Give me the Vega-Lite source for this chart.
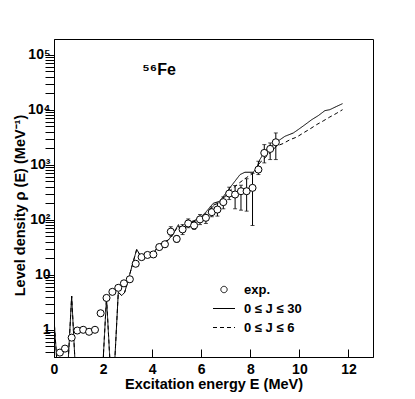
{
  "$schema": "https://vega.github.io/schema/vega-lite/v6.json",
  "width": 319,
  "height": 318,
  "autosize": "none",
  "padding": {"left": 54, "top": 39, "right": 42, "bottom": 42},
  "background": "white",
  "view": {"stroke": "black", "strokeWidth": 1},
  "config": {
    "font": "Liberation Sans",
    "axis": {
      "grid": false,
      "domainColor": "black",
      "domainWidth": 1,
      "ticks": true,
      "tickColor": "black",
      "tickWidth": 1,
      "tickOpacity": 1,
      "labelColor": "black",
      "titleColor": "black",
      "labelFont": "Liberation Sans",
      "labelFontWeight": "bold",
      "labelFontSize": 14,
      "titleFont": "Liberation Sans",
      "titleFontWeight": "bold",
      "titleFontSize": 14.5,
      "labelFlush": false,
      "labelOverlap": false
    }
  },
  "datasets": {
    "exp": [
      {"E": 0.24, "rho": 0.385, "series": "exp."},
      {"E": 0.45, "rho": 0.455, "series": "exp."},
      {"E": 0.72, "rho": 0.72, "series": "exp."},
      {"E": 0.95, "rho": 0.97, "series": "exp."},
      {"E": 1.19, "rho": 1.0, "series": "exp."},
      {"E": 1.43, "rho": 0.92, "series": "exp."},
      {"E": 1.67, "rho": 1.0, "series": "exp."},
      {"E": 1.9, "rho": 2.0, "series": "exp."},
      {"E": 2.14, "rho": 3.8, "series": "exp."},
      {"E": 2.38, "rho": 4.9, "series": "exp."},
      {"E": 2.62, "rho": 5.8, "series": "exp."},
      {"E": 2.85, "rho": 7.0, "series": "exp."},
      {"E": 3.09, "rho": 8.3, "series": "exp."},
      {"E": 3.33, "rho": 15.9, "series": "exp."},
      {"E": 3.57, "rho": 21, "series": "exp."},
      {"E": 3.81, "rho": 23, "series": "exp."},
      {"E": 4.05, "rho": 23.5, "series": "exp."},
      {"E": 4.29, "rho": 32, "lo": 29, "hi": 35, "series": "exp."},
      {"E": 4.52, "rho": 36, "lo": 32, "hi": 40, "series": "exp."},
      {"E": 4.76, "rho": 61, "lo": 51, "hi": 75, "series": "exp."},
      {"E": 5.0, "rho": 45, "lo": 39, "hi": 52, "series": "exp."},
      {"E": 5.24, "rho": 67, "lo": 54, "hi": 82, "series": "exp."},
      {"E": 5.47, "rho": 86, "lo": 72, "hi": 104, "series": "exp."},
      {"E": 5.71, "rho": 79, "lo": 67, "hi": 95, "series": "exp."},
      {"E": 5.95, "rho": 102, "lo": 82, "hi": 125, "series": "exp."},
      {"E": 6.19, "rho": 109, "lo": 86, "hi": 125, "series": "exp."},
      {"E": 6.43, "rho": 138, "lo": 114, "hi": 173, "series": "exp."},
      {"E": 6.66, "rho": 154, "lo": 117, "hi": 204, "series": "exp."},
      {"E": 6.9, "rho": 210, "lo": 159, "hi": 262, "series": "exp."},
      {"E": 7.14, "rho": 301, "lo": 234, "hi": 393, "series": "exp."},
      {"E": 7.38, "rho": 289, "lo": 159, "hi": 421, "series": "exp."},
      {"E": 7.62, "rho": 332, "lo": 150, "hi": 427, "series": "exp."},
      {"E": 7.85, "rho": 332, "lo": 144, "hi": 560, "series": "exp."},
      {"E": 8.09, "rho": 382, "lo": 79, "hi": 700, "series": "exp."},
      {"E": 8.33, "rho": 822, "lo": 667, "hi": 1165, "series": "exp."},
      {"E": 8.57, "rho": 1651, "lo": 1087, "hi": 2339, "series": "exp."},
      {"E": 8.81, "rho": 1951, "lo": 1250, "hi": 2507, "series": "exp."},
      {"E": 9.04, "rho": 2578, "lo": 1250, "hi": 3811, "series": "exp."}
    ],
    "theory": [
      {"E": 0.0, "rho": 1.6, "series": "0 ≤ J ≤ 30"},
      {"E": 0.24, "rho": 0.04, "series": "0 ≤ J ≤ 30"},
      {"E": 0.48, "rho": 0.04, "series": "0 ≤ J ≤ 30"},
      {"E": 0.72, "rho": 4.1, "series": "0 ≤ J ≤ 30"},
      {"E": 0.95, "rho": 0.04, "series": "0 ≤ J ≤ 30"},
      {"E": 1.9, "rho": 0.04, "series": "0 ≤ J ≤ 30"},
      {"E": 2.14, "rho": 3.85, "series": "0 ≤ J ≤ 30"},
      {"E": 2.38, "rho": 0.04, "series": "0 ≤ J ≤ 30"},
      {"E": 2.62, "rho": 4.8, "series": "0 ≤ J ≤ 30"},
      {"E": 2.76, "rho": 4.2, "series": "0 ≤ J ≤ 30"},
      {"E": 2.88, "rho": 4.8, "series": "0 ≤ J ≤ 30"},
      {"E": 3.37, "rho": 29, "series": "0 ≤ J ≤ 30"},
      {"E": 3.53, "rho": 22, "series": "0 ≤ J ≤ 30"},
      {"E": 3.78, "rho": 23.6, "series": "0 ≤ J ≤ 30"},
      {"E": 4.05, "rho": 25, "series": "0 ≤ J ≤ 30"},
      {"E": 4.32, "rho": 36, "series": "0 ≤ J ≤ 30"},
      {"E": 4.66, "rho": 43, "series": "0 ≤ J ≤ 30"},
      {"E": 4.85, "rho": 55, "series": "0 ≤ J ≤ 30"},
      {"E": 5.07, "rho": 82, "series": "0 ≤ J ≤ 30"},
      {"E": 5.18, "rho": 62, "series": "0 ≤ J ≤ 30"},
      {"E": 5.54, "rho": 89, "series": "0 ≤ J ≤ 30"},
      {"E": 5.95, "rho": 109, "series": "0 ≤ J ≤ 30"},
      {"E": 6.2, "rho": 140, "series": "0 ≤ J ≤ 30"},
      {"E": 6.49, "rho": 200, "series": "0 ≤ J ≤ 30"},
      {"E": 6.76, "rho": 219, "series": "0 ≤ J ≤ 30"},
      {"E": 7.17, "rho": 384, "series": "0 ≤ J ≤ 30"},
      {"E": 7.58, "rho": 665, "series": "0 ≤ J ≤ 30"},
      {"E": 7.78, "rho": 735, "series": "0 ≤ J ≤ 30"},
      {"E": 8.12, "rho": 735, "series": "0 ≤ J ≤ 30"},
      {"E": 8.26, "rho": 883, "series": "0 ≤ J ≤ 30"},
      {"E": 8.39, "rho": 1250, "series": "0 ≤ J ≤ 30"},
      {"E": 8.6, "rho": 1766, "series": "0 ≤ J ≤ 30"},
      {"E": 9.07, "rho": 2600, "series": "0 ≤ J ≤ 30"},
      {"E": 9.41, "rho": 3310, "series": "0 ≤ J ≤ 30"},
      {"E": 9.75, "rho": 3800, "series": "0 ≤ J ≤ 30"},
      {"E": 9.95, "rho": 4380, "series": "0 ≤ J ≤ 30"},
      {"E": 10.23, "rho": 5390, "series": "0 ≤ J ≤ 30"},
      {"E": 10.5, "rho": 6630, "series": "0 ≤ J ≤ 30"},
      {"E": 10.77, "rho": 7870, "series": "0 ≤ J ≤ 30"},
      {"E": 11.04, "rho": 9700, "series": "0 ≤ J ≤ 30"},
      {"E": 11.24, "rho": 10100, "series": "0 ≤ J ≤ 30"},
      {"E": 11.52, "rho": 11600, "series": "0 ≤ J ≤ 30"},
      {"E": 11.76, "rho": 13000, "series": "0 ≤ J ≤ 30"},
      {"E": 0.0, "rho": 1.6, "series": "0 ≤ J ≤ 6"},
      {"E": 0.24, "rho": 0.04, "series": "0 ≤ J ≤ 6"},
      {"E": 0.48, "rho": 0.04, "series": "0 ≤ J ≤ 6"},
      {"E": 0.72, "rho": 4.1, "series": "0 ≤ J ≤ 6"},
      {"E": 0.95, "rho": 0.04, "series": "0 ≤ J ≤ 6"},
      {"E": 1.9, "rho": 0.04, "series": "0 ≤ J ≤ 6"},
      {"E": 2.14, "rho": 3.85, "series": "0 ≤ J ≤ 6"},
      {"E": 2.38, "rho": 0.04, "series": "0 ≤ J ≤ 6"},
      {"E": 2.62, "rho": 4.8, "series": "0 ≤ J ≤ 6"},
      {"E": 2.76, "rho": 4.2, "series": "0 ≤ J ≤ 6"},
      {"E": 2.88, "rho": 4.8, "series": "0 ≤ J ≤ 6"},
      {"E": 3.37, "rho": 29, "series": "0 ≤ J ≤ 6"},
      {"E": 3.53, "rho": 22, "series": "0 ≤ J ≤ 6"},
      {"E": 3.78, "rho": 23.6, "series": "0 ≤ J ≤ 6"},
      {"E": 4.05, "rho": 25, "series": "0 ≤ J ≤ 6"},
      {"E": 4.32, "rho": 36, "series": "0 ≤ J ≤ 6"},
      {"E": 4.66, "rho": 43, "series": "0 ≤ J ≤ 6"},
      {"E": 4.85, "rho": 55, "series": "0 ≤ J ≤ 6"},
      {"E": 5.07, "rho": 78, "series": "0 ≤ J ≤ 6"},
      {"E": 5.18, "rho": 60, "series": "0 ≤ J ≤ 6"},
      {"E": 5.54, "rho": 86, "series": "0 ≤ J ≤ 6"},
      {"E": 5.95, "rho": 104, "series": "0 ≤ J ≤ 6"},
      {"E": 6.2, "rho": 132, "series": "0 ≤ J ≤ 6"},
      {"E": 6.49, "rho": 185, "series": "0 ≤ J ≤ 6"},
      {"E": 6.76, "rho": 205, "series": "0 ≤ J ≤ 6"},
      {"E": 7.17, "rho": 340, "series": "0 ≤ J ≤ 6"},
      {"E": 7.58, "rho": 480, "series": "0 ≤ J ≤ 6"},
      {"E": 7.85, "rho": 590, "series": "0 ≤ J ≤ 6"},
      {"E": 8.1, "rho": 700, "series": "0 ≤ J ≤ 6"},
      {"E": 8.39, "rho": 1090, "series": "0 ≤ J ≤ 6"},
      {"E": 8.8, "rho": 1650, "series": "0 ≤ J ≤ 6"},
      {"E": 9.07, "rho": 2200, "series": "0 ≤ J ≤ 6"},
      {"E": 9.34, "rho": 2450, "series": "0 ≤ J ≤ 6"},
      {"E": 9.62, "rho": 2880, "series": "0 ≤ J ≤ 6"},
      {"E": 9.89, "rho": 3200, "series": "0 ≤ J ≤ 6"},
      {"E": 10.16, "rho": 3810, "series": "0 ≤ J ≤ 6"},
      {"E": 10.43, "rho": 4500, "series": "0 ≤ J ≤ 6"},
      {"E": 10.7, "rho": 5390, "series": "0 ≤ J ≤ 6"},
      {"E": 10.97, "rho": 6300, "series": "0 ≤ J ≤ 6"},
      {"E": 11.24, "rho": 7430, "series": "0 ≤ J ≤ 6"},
      {"E": 11.5, "rho": 8600, "series": "0 ≤ J ≤ 6"},
      {"E": 11.76, "rho": 10100, "series": "0 ≤ J ≤ 6"}
    ]
  },
  "layer": [
    {
      "data": {"name": "theory"},
      "mark": {"type": "line", "clip": true, "color": "black", "strokeWidth": 1},
      "encoding": {
        "x": {
          "field": "E", "type": "quantitative",
          "scale": {"domain": [0, 13], "nice": false, "zero": false},
          "axis": {
            "orient": "top",
            "offset": -318,
            "title": "Excitation energy E (MeV)",
            "values": [0, 0.5, 1, 1.5, 2, 2.5, 3, 3.5, 4, 4.5, 5, 5.5, 6, 6.5, 7, 7.5, 8, 8.5, 9, 9.5, 10, 10.5, 11, 11.5, 12, 12.5, 13],
            "labelExpr": "datum.value % 2 === 0 ? datum.label : ''",
            "tickSize": 8,
            "labelPadding": -13,
            "labelBaseline": "top",
            "titleY": 31,
            "titleBaseline": "alphabetic",
            "zindex": 2,
            "encode": {
              "ticks": {
                "update": {
                  "y2": {"signal": "indexof([0, 2, 4, 6, 8, 10, 12], datum.value) >= 0 ? -8 : -4"}
                }
              }
            }
          }
        },
        "y": {
          "field": "rho", "type": "quantitative",
          "scale": {"type": "log", "domain": [0.32, 195000], "nice": false},
          "axis": {
            "title": "Level density ρ (E) (MeV⁻¹)",
            "values": [0.4, 0.5, 0.6, 0.7, 0.8, 0.9, 1, 2, 3, 4, 5, 6, 7, 8, 9, 10, 20, 30, 40, 50, 60, 70, 80, 90, 100, 200, 300, 400, 500, 600, 700, 800, 900, 1000, 2000, 3000, 4000, 5000, 6000, 7000, 8000, 9000, 10000, 20000, 30000, 40000, 50000, 60000, 70000, 80000, 90000, 100000],
            "labelExpr": "datum.value === 1 ? '1' : datum.value === 10 ? '10' : datum.value === 100 ? '10²' : datum.value === 1000 ? '10³' : datum.value === 10000 ? '10⁴' : datum.value === 100000 ? '10⁵' : ''",
            "tickSize": 9,
            "labelPadding": -5,
            "titleAngle": 270,
            "titleX": -30,
            "titleY": 166,
            "titleAlign": "center",
            "titleBaseline": "alphabetic",
            "zindex": 2,
            "encode": {
              "ticks": {
                "update": {
                  "x2": {"signal": "indexof([1, 10, 100, 1000, 10000, 100000], datum.value) >= 0 ? 9 : 5"}
                }
              }
            }
          }
        },
        "strokeDash": {
          "field": "series", "type": "nominal",
          "scale": {"domain": ["exp.", "0 ≤ J ≤ 30", "0 ≤ J ≤ 6"], "range": [[1, 0], [1, 0], [4, 3]]},
          "legend": {
            "orient": "none",
            "legendX": 158.5,
            "legendY": 239,
            "title": null,
            "padding": 0,
            "symbolSize": 484,
            "symbolType": "stroke",
            "symbolStrokeColor": "black",
            "symbolStrokeWidth": 1,
            "labelFont": "Liberation Sans",
            "labelFontSize": 13,
            "labelFontWeight": "bold",
            "labelColor": "black",
            "labelOffset": 8.5,
            "rowPadding": -1,
            "encode": {
              "symbols": {
                "update": {
                  "shape": {"signal": "datum.value === 'exp.' ? 'circle' : 'stroke'"},
                  "size": {"signal": "datum.value === 'exp.' ? 40 : 484"},
                  "fill": {"value": "white"},
                  "stroke": {"value": "black"},
                  "strokeWidth": {"value": 1},
                  "strokeDash": {"scale": "strokeDash", "field": "value"},
                  "opacity": {"value": 1}
                }
              }
            }
          }
        }
      }
    },
    {
      "data": {"name": "exp"},
      "transform": [{"filter": "isValid(datum.lo)"}],
      "mark": {"type": "rule", "color": "black", "strokeWidth": 1},
      "encoding": {
        "x": {"field": "E", "type": "quantitative"},
        "y": {"field": "lo", "type": "quantitative"},
        "y2": {"field": "hi"}
      }
    },
    {
      "data": {"name": "exp"},
      "transform": [{"filter": "isValid(datum.lo)"}],
      "mark": {"type": "tick", "orient": "horizontal", "color": "black", "size": 4, "thickness": 1},
      "encoding": {
        "x": {"field": "E", "type": "quantitative"},
        "y": {"field": "lo", "type": "quantitative"}
      }
    },
    {
      "data": {"name": "exp"},
      "transform": [{"filter": "isValid(datum.hi)"}],
      "mark": {"type": "tick", "orient": "horizontal", "color": "black", "size": 4, "thickness": 1},
      "encoding": {
        "x": {"field": "E", "type": "quantitative"},
        "y": {"field": "hi", "type": "quantitative"}
      }
    },
    {
      "data": {"name": "exp"},
      "mark": {"type": "point", "shape": "circle", "filled": true, "fill": "white", "stroke": "black", "strokeWidth": 1, "size": 50, "opacity": 1},
      "encoding": {
        "x": {"field": "E", "type": "quantitative"},
        "y": {"field": "rho", "type": "quantitative"}
      }
    },
    {
      "data": {"values": [{"label": "⁵⁶Fe"}]},
      "mark": {"type": "text", "align": "left", "baseline": "alphabetic", "font": "Liberation Sans", "fontSize": 16, "fontWeight": "bold", "color": "black"},
      "encoding": {
        "x": {"datum": 3.6},
        "y": {"datum": 44000},
        "text": {"field": "label", "type": "nominal"}
      }
    }
  ]
}
